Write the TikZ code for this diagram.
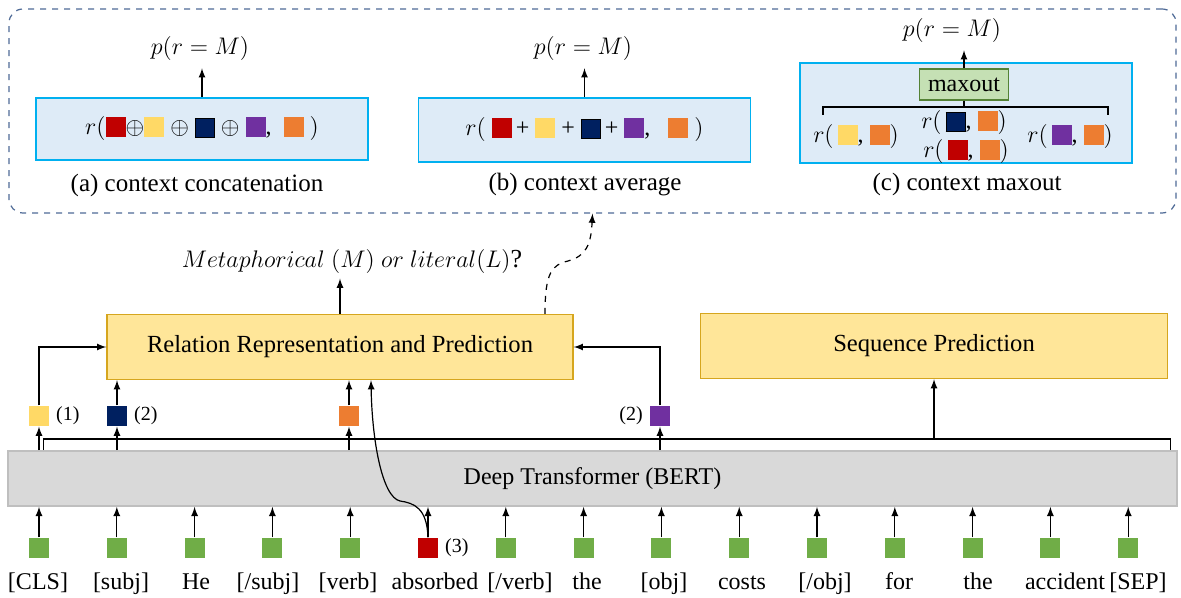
\documentclass[tikz,border=0pt]{standalone}
\usepackage{fontspec}
\setmainfont{Liberation Serif}
\usetikzlibrary{positioning}
\usetikzlibrary{calc}
\definecolor{tokgreen}{HTML}{70AD47}
\definecolor{tokred}{HTML}{C00000}
\definecolor{ctxyellow}{HTML}{FFD966}
\definecolor{ctxnavy}{HTML}{002060}
\definecolor{ctxpurple}{HTML}{7030A0}
\definecolor{ctxorange}{HTML}{ED7D31}
\definecolor{panelfill}{HTML}{DEEBF7}
\definecolor{panelline}{HTML}{00B0F0}
\definecolor{modfill}{HTML}{FFE699}
\definecolor{modline}{HTML}{D6A61E}
\definecolor{bertfill}{HTML}{D9D9D9}
\definecolor{bertline}{HTML}{BFBFBF}
\definecolor{maxfill}{HTML}{C5E0B4}
\definecolor{maxline}{HTML}{548235}
\definecolor{ctxline}{HTML}{4E6A96}
\newcommand{\csq}[1]{\textcolor{#1}{\rule[-1pt]{10pt}{10pt}}}
\newcommand{\bsq}[1]{{\setlength{\fboxsep}{0pt}\setlength{\fboxrule}{0.5pt}\raisebox{-1pt}{\fcolorbox{black}{#1}{\rule{0pt}{9pt}\hspace{9pt}}}}}

\begin{document}
\begin{tikzpicture}[x=0.5pt, y=-0.5pt, >=latex, line width=0.6pt,
		every node/.style={font=\fontsize{12}{14}\selectfont},
		tok/.style={minimum size=10pt, inner sep=0pt},
		word/.style={inner sep=0pt, text height=9pt, text depth=3pt},
		num/.style={font=\fontsize{10}{12}\selectfont, inner sep=1pt},
		modbox/.style={draw=modline, fill=modfill, line width=0.7pt, minimum width=233pt, minimum height=32.5pt, font=\fontsize{12.3}{14}\selectfont},
		panel/.style={draw=panelline, fill=panelfill, line width=0.8pt, minimum width=166pt},
		ctxbox/.style={draw=ctxline, dashed, rounded corners=7pt, minimum width=583.5pt, minimum height=102pt},
		caption/.style={font=\fontsize{12.5}{14}\selectfont}]
		\useasboundingbox (0,0) rectangle (1181,598);

		%context variants
		\node[ctxbox] (ctx) at (592.5,111) {};

		%(a) concatenation
		\node[panel, minimum height=31pt] (pa) at (202,129) {$r($\csq{tokred}$\oplus$\csq{ctxyellow}\ $\oplus$\ \bsq{ctxnavy}\ $\oplus$\ \csq{ctxpurple},\ \ \csq{ctxorange}\ $)$};
		\node (pma) at (200,49) {$p(r=M)$};
		\node[caption] (ca) at (197,185) {(a) context concatenation};
		\draw[->] (pa.north) -- (pa.north |- pma.south);

		%(b) average
		\node[panel, minimum height=32pt] (pb) at (584.5,130) {$r($\ \csq{tokred}\,+\ \csq{ctxyellow}\ +\ \bsq{ctxnavy}\,+\ \csq{ctxpurple},\ \ \ \csq{ctxorange}\ $)$};
		\node (pmb) at (583,49) {$p(r=M)$};
		\node[caption] (cb) at (585,185) {(b) context average};
		\draw[->] (pb.north) -- (pb.north |- pmb.south);

		%(c) maxout
		\node[panel, minimum height=50pt] (pc) at (966,113) {};
		\node[draw=maxline, fill=maxfill, minimum width=44.5pt, minimum height=15.5pt, inner sep=1pt] (mx) at (964,84.5) {maxout};
		\node (pmc) at (952,31) {$p(r=M)$};
		\draw[->] (mx.north) -- (mx.north |- pmc.south);
		\draw (823,115) |- (1108,107) -- (1108,115);
		\draw (mx.south) -- ++(0,7);
		\node[inner sep=0pt] (c1) at (856,137) {$r($\,\csq{ctxyellow}, \csq{ctxorange}$)$};
		\node[inner sep=0pt] (c2) at (964,123) {$r($\,\bsq{ctxnavy}, \csq{ctxorange}$)$};
		\node[inner sep=0pt] (c3) at (966,152) {$r($\,\csq{tokred}, \csq{ctxorange}$)$};
		\node[inner sep=0pt] (c4) at (1070,137) {$r($\,\csq{ctxpurple}, \csq{ctxorange}$)$};
		\node[caption] (cc) at (967,184) {(c) context maxout};

		%prediction heads
		\node[modbox] (rel) at (340,347) {Relation Representation and Prediction};
		\node[modbox, minimum width=233.5pt] (seq) at (934,346) {Sequence Prediction};
		\node[font=\fontsize{13}{15}\selectfont, inner sep=2pt] (q) at (352,262) {$Metaphorical\ (M)\ or\ literal(L)$?};
		\draw[->] (rel.north) -- (rel.north |- q.south);
		\draw[dashed, ->] ([xshift=102.5pt]rel.north) .. controls (545,272) and (552,265) .. (568,261) .. controls (586,256) and (591,245) .. (ctx.south);

		%encoder
		\node[draw=bertline, fill=bertfill, line width=0.8pt, minimum width=584.5pt, minimum height=27.5pt] (bert) at (592.5,478.5) {Deep Transformer (BERT)};

		%input tokens
		\foreach \w/\lx/\col [count=\i] in {{[CLS]}/38/tokgreen, {[subj]}/121/tokgreen, He/196/tokgreen, {[/subj]}/268/tokgreen, {[verb]}/348/tokgreen, absorbed/435/tokred, {[/verb]}/520/tokgreen, the/587/tokgreen, {[obj]}/664/tokgreen, costs/742/tokgreen, {[/obj]}/825/tokgreen, for/899/tokgreen, the/978/tokgreen, accident/1065/tokgreen, {[SEP]}/1138/tokgreen}
		{
			\node[tok, fill=\col] (t\i) at ({39+(\i-1)*77.8},548) {};
			\node[word] (w\i) at (\lx,583) {\w};
			\draw[->] (t\i.north) -- (t\i |- bert.south);
		}
		\node[num, right=2pt of t6] (n3) {(3)};

		%encoder outputs
		\node[tok, fill=ctxyellow] (o1) at (39,416) {};
		\node[tok, fill=ctxnavy] (o2) at (117,416) {};
		\node[tok, fill=ctxorange] (o3) at (349,416) {};
		\node[tok, fill=ctxpurple] (o4) at (660,416) {};
		\node[num, right=2pt of o1] (n1) {(1)};
		\node[num, right=2pt of o2] (n2) {(2)};
		\node[num, left=2pt of o4] (n4) {(2)};
		\foreach \o in {o1,o2,o3,o4}
		\draw[->] (\o |- bert.north) -- (\o.south);
		\draw[->] (o1.north) |- (rel.west);
		\draw[->] (o4.north) |- (rel.east);
		\draw[->] (o2.north) -- (o2 |- rel.south);
		\draw[->] (o3.north) -- (o3 |- rel.south);

		%all outputs to sequence prediction
		\coordinate (bl) at ([xshift=18pt]bert.north west);
		\coordinate (br) at ([xshift=-3.5pt]bert.north east);
		\coordinate (bm) at (934,439);
		\draw (bl) |- (bm) -| (br);
		\draw[->] (bm) -- (seq.south);

		%absorbed to relation
		\coordinate (relin) at ([xshift=15.5pt]rel.south);
		\draw[->] (t6.north) .. controls (427,508) and (414,503) .. (400,501) .. controls (382,497) and (372,440) .. (relin);
	\end{tikzpicture}
\end{document}
